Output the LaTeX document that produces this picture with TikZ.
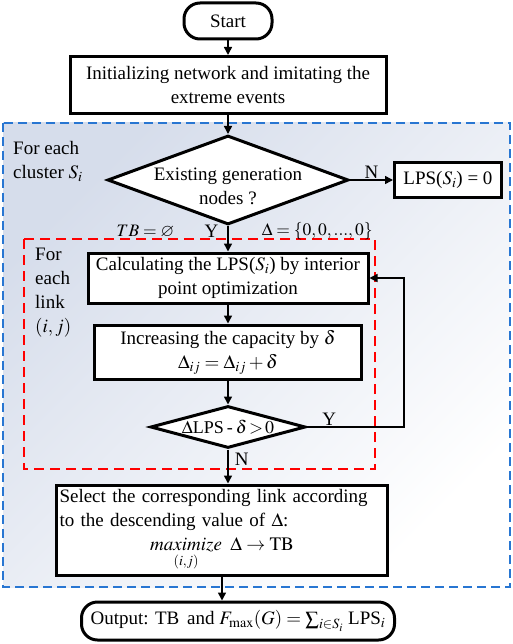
\documentclass[tikz,border=0pt]{standalone}
\usepackage{amsmath}
\usepackage{amssymb}
\usepackage{mathptmx}
\usepackage{fontspec}
\setmainfont{Liberation Serif}
\usetikzlibrary{arrows, positioning, arrows.meta, fit, shapes}

\definecolor{clusterblue}{RGB}{40,118,210}
\definecolor{shadetop}{RGB}{214,221,235}

\begin{document}
\begin{tikzpicture}[node distance=64pt, font=\fontsize{19}{24}\selectfont]
    \useasboundingbox (0pt,0pt) rectangle (512pt,-644pt);

    % Regions
    \coordinate (cluster nw) at (3pt,-123pt);
    \coordinate (cluster se) at (510pt,-587pt);
    \coordinate (link nw) at (24pt,-239pt);
    \coordinate (link se) at (375pt,-469pt);
    \draw[clusterblue, line width=1.6pt, dash pattern=on 9pt off 5pt, top color=shadetop, middle color=white, bottom color=white, shading angle=45] (cluster nw) rectangle (cluster se);
    \draw[red, line width=1.8pt, dash pattern=on 10pt off 6pt] (link nw) rectangle (link se);
    \node[align=left, inner sep=0pt, anchor=north west] (cluster label) at ([xshift=10pt, yshift=-18pt]cluster nw) {For each\\cluster $S_i$};
    \node[align=left, inner sep=0pt, anchor=north west] (link label) at ([xshift=11pt, yshift=-9pt]link nw) {For\\each\\link\\$(i, j)$};

    % Nodes
    \node[draw, line width=3pt, fill=white, rounded corners=16pt, minimum width=88pt, minimum height=36pt] (start) at (228pt,-21pt) {Start};
    \node[draw, line width=3pt, fill=white, align=center, below of=start, minimum width=316pt, minimum height=57pt] (init) {Initializing network and imitating the\\extreme events};
    \node[draw, diamond, line width=3pt, fill=white, inner sep=0pt, below of=init, node distance=95pt, minimum width=241pt, minimum height=89pt, label={[align=center, yshift=-6pt]center:Existing generation\\nodes ?}] (exist) {};
    \node[draw, line width=3pt, fill=white, right of=exist, node distance=220pt, minimum width=107pt, minimum height=35pt] (lps zero) {LPS($S_i$) = 0};
    \node[draw, line width=3pt, fill=white, align=center, below of=exist, node distance=98pt, minimum width=280pt, minimum height=50pt] (calc) {Calculating the LPS($S_i$) by interior\\point optimization};
    \node[draw, line width=3pt, fill=white, align=center, below of=calc, node distance=74pt, minimum width=267pt, minimum height=54pt] (increase) {Increasing the capacity by $\delta$\\$\Delta_{ij} = \Delta_{ij} + \delta$};
    \node[draw, diamond, line width=3pt, fill=white, inner sep=0pt, below of=increase, node distance=75pt, minimum width=155pt, minimum height=42pt, label={[font=\fontsize{18}{22}\selectfont]center:$\Delta$LPS\,-\,$\delta\,{>}\,0$}] (check) {};
    \node[draw, line width=3pt, fill=white, below of=check, node distance=103pt, xshift=-6pt, minimum width=331pt, minimum height=90pt, text width=325pt, inner sep=3pt, align=left] (select) {Select the corresponding link according\\to the descending value of $\Delta$:\\\makebox[\linewidth]{$\mathop{\mathit{maximize}}\limits_{(i,j)}\ \Delta \rightarrow \mathrm{TB}$}};
    \node[draw, line width=3pt, fill=white, rounded corners=16pt, below of=select, node distance=91pt, xshift=16pt, minimum width=313pt, minimum height=38pt] (output) {Output: TB\, and $F_{\max}(G) = \sum_{i\in S_i}$ LPS$_i$};

    % Connections
    \draw [line width=1.5pt, arrows = {-Triangle[length=8pt, width=8pt]}] (start) -- (init);
    \draw [line width=1.5pt, arrows = {-Triangle[length=8pt, width=8pt]}] (init) -- (exist);
    \draw [line width=1.5pt, arrows = {-Triangle[length=8pt, width=8pt]}] (exist.east) -- node[midway, above, inner sep=1pt] {N} (lps zero);
    \draw [line width=1.5pt, arrows = {-Triangle[length=8pt, width=8pt]}] (exist.south) -- node[pos=0.2, left=9pt, inner sep=0pt] {Y} node[pos=0.2, left=53pt, inner sep=0pt, font=\fontsize{17.5}{21}\selectfont] {$TB = \varnothing$} node[pos=0.2, right=33pt, inner sep=0pt, font=\fontsize{17.5}{21}\selectfont] {$\Delta = \{0, 0, ..., 0\}$} (calc);
    \draw [line width=1.5pt, arrows = {-Triangle[length=8pt, width=8pt]}] (calc) -- (increase);
    \draw [line width=1.5pt, arrows = {-Triangle[length=8pt, width=8pt]}] (increase) -- (check);
    \draw [line width=1.5pt, arrows = {-Triangle[length=8pt, width=8pt]}] (check.east) -- node[pos=0.23, above, inner sep=1pt] {Y} ++(97pt,0pt) |- (calc.east);
    \draw [line width=1.5pt, arrows = {-Triangle[length=8pt, width=8pt]}] (check.south) -- node[pos=0.3, right, inner sep=6pt] {N} (check.south |- select.north);
    \draw [line width=1.5pt, arrows = {-Triangle[length=8pt, width=8pt]}] (select.south) -- (select.south |- output.north);
\end{tikzpicture}
\end{document}
